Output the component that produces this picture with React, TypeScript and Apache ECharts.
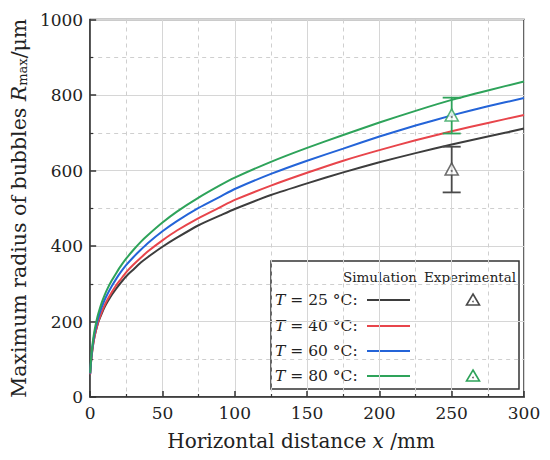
import React, { useEffect, useRef } from "react";
import * as echarts from "echarts";

const xs = [0, 0.5, 1, 2, 3, 4, 5, 6, 8, 10, 12, 15, 18, 21, 25, 30, 35, 40, 50, 60, 75, 90, 100, 125, 150, 175, 200, 225, 250, 275, 300];
const sim25 = [62, 88, 108, 138, 160, 176, 190, 202, 221, 238, 252, 271, 287, 302, 320, 338, 356, 371, 398, 422, 455, 481, 498, 535, 566, 595, 622, 646, 669, 690, 711];
const sim40 = [60, 87, 107, 137, 159, 176, 191, 204, 225, 243, 258, 278, 296, 311, 331, 351, 369, 386, 415, 441, 474, 503, 522, 560, 594, 626, 654, 680, 704, 726, 747];
const sim60 = [62, 90, 112, 144, 168, 186, 202, 215, 238, 257, 273, 294, 313, 330, 350, 371, 390, 408, 439, 466, 501, 531, 551, 591, 626, 658, 690, 719, 746, 770, 792];
const sim80 = [64, 94, 117, 151, 176, 195, 212, 226, 250, 270, 287, 309, 328, 346, 367, 390, 411, 429, 462, 491, 528, 561, 581, 623, 660, 694, 727, 758, 787, 812, 836];

const expX = [250, 250];
const expMean = [604, 747];
const expLow = [542, 698];
const expHigh = [663, 793];
const expColors = ["#4a4a4a", "#2ea35a"];

const seriesNames = ["T = 25 °C", "T = 40 °C", "T = 60 °C", "T = 80 °C"];
const seriesColors = ["#3d3d3d", "#e8454b", "#2464d8", "#2ea35a"];
const seriesData = [sim25, sim40, sim60, sim80];
const legendRows = ["25", "40", "60", "80"];

const FONT = "DejaVu Serif";

export default function App() {
  const ref = useRef<HTMLDivElement>(null);
  useEffect(() => {
    if (!ref.current) return;
    const chart = echarts.init(ref.current, null, { renderer: "svg" });

    const axisCommon = {
      axisLine: { show: true, lineStyle: { color: "#333", width: 1.5 } },
      axisTick: { show: true, inside: true, length: 6, lineStyle: { color: "#333", width: 1.5 } },
      minorTick: { show: true, splitNumber: 2, length: 3, lineStyle: { color: "#333", width: 1.2 } },
      splitLine: { show: true, lineStyle: { color: "#d6d6d6", width: 1 } },
      minorSplitLine: { show: true, lineStyle: { color: "#cfcfcf", width: 1, type: [4, 4] } },
    };
    const labelStyle = {
      fontSize: 17,
      fontFamily: FONT,
      color: "#222",
      formatter: (v: number) => String(v),
    };

    const lineSeries = seriesData.map((d, i) => ({
      name: seriesNames[i],
      type: "line",
      data: xs.map((x, j) => [x, d[j]]),
      showSymbol: false,
      smooth: 0.2,
      lineStyle: { color: seriesColors[i], width: 2 },
      itemStyle: { color: seriesColors[i] },
      z: 3,
    }));

    const errSeries = {
      type: "custom",
      data: expX.map((x, i) => [x, expLow[i], expHigh[i], i]),
      renderItem: (params: any, api: any) => {
        const lo = api.coord([api.value(0), api.value(1)]);
        const hi = api.coord([api.value(0), api.value(2)]);
        const c = expColors[api.value(3)];
        const w = 9;
        const st = { stroke: c, lineWidth: 1.8 };
        return {
          type: "group",
          children: [
            { type: "line", shape: { x1: lo[0], y1: lo[1], x2: hi[0], y2: hi[1] }, style: st },
            { type: "line", shape: { x1: lo[0] - w, y1: lo[1], x2: lo[0] + w, y2: lo[1] }, style: st },
            { type: "line", shape: { x1: hi[0] - w, y1: hi[1], x2: hi[0] + w, y2: hi[1] }, style: st },
          ],
        };
      },
      z: 4,
    };

    const pointSeries = expX.map((x, i) => ({
      type: "scatter",
      data: [[x, expMean[i]]],
      symbol: "triangle",
      symbolSize: [13, 12],
      itemStyle: { color: "#fff", borderColor: expColors[i], borderWidth: 1.6 },
      z: 5,
    }));
    const dotSeries = {
      type: "scatter",
      data: expX.map((x, i) => [x, expMean[i]]),
      symbol: "circle",
      symbolSize: 2,
      symbolOffset: [0, 2],
      itemStyle: { color: "#555" },
      z: 6,
    };

    const lx = 271, ly = 261;
    const rowY = [300, 326, 351, 376];
    const legendChildren: any[] = [
      { type: "rect", shape: { x: lx, y: ly, width: 248, height: 128 }, style: { fill: "#fff", stroke: "#333", lineWidth: 1.5 } },
      { type: "text", x: 343, y: 277, style: { text: "Simulation", fontFamily: FONT, fontSize: 13.5, fill: "#222", verticalAlign: "middle" } },
      { type: "text", x: 424, y: 277, style: { text: "Experimental", fontFamily: FONT, fontSize: 13.5, fill: "#222", verticalAlign: "middle" } },
    ];
    legendRows.forEach((t, i) => {
      legendChildren.push({
        type: "text",
        x: 275,
        y: rowY[i],
        style: {
          text: `{i|T}{n| = ${t} °C:}`,
          verticalAlign: "middle",
          rich: {
            i: { fontFamily: FONT, fontSize: 15.5, fontStyle: "italic", fill: "#222" },
            n: { fontFamily: FONT, fontSize: 15.5, fill: "#222" },
          },
        },
      });
      legendChildren.push({
        type: "line",
        shape: { x1: 367, y1: rowY[i], x2: 410, y2: rowY[i] },
        style: { stroke: seriesColors[i], lineWidth: 2 },
      });
    });
    [0, 3].forEach((row, k) => {
      const cx = 473, cy = rowY[row];
      legendChildren.push({
        type: "polygon",
        shape: { points: [[cx, cy - 6], [cx + 6.5, cy + 5], [cx - 6.5, cy + 5]] },
        style: { fill: "#fff", stroke: expColors[k], lineWidth: 1.6 },
      });
      legendChildren.push({ type: "circle", shape: { cx, cy: cy + 1.5, r: 0.8 }, style: { fill: "#555" } });
    });

    chart.setOption({
      animation: false,
      backgroundColor: "#fff",
      textStyle: { fontFamily: FONT },
      grid: { left: 81, right: 26, top: 19.5, bottom: 63, show: true, borderColor: "#333", borderWidth: 1.5, backgroundColor: "transparent" },
      xAxis: {
        type: "value",
        min: 0,
        max: 300,
        interval: 50,
        ...axisCommon,
        axisLabel: { ...labelStyle, margin: 7 },
        name: "{n|Horizontal distance }{i|x}{n| /mm}",
        nameLocation: "middle",
        nameGap: 34,
        nameTextStyle: {
          fontFamily: FONT,
          padding: [0, 12, 0, 0],
          rich: {
            n: { fontFamily: FONT, fontSize: 20, color: "#222" },
            i: { fontFamily: FONT, fontSize: 20, fontStyle: "italic", color: "#222" },
          },
        },
      },
      yAxis: {
        type: "value",
        min: 0,
        max: 1000,
        interval: 200,
        ...axisCommon,
        axisLabel: { ...labelStyle, margin: 7 },
        name: "{n|Maximum radius of bubbles }{i|R}{s|max}{n|/μm}",
        nameLocation: "middle",
        nameGap: 52,
        nameTextStyle: {
          fontFamily: FONT,
          rich: {
            n: { fontFamily: FONT, fontSize: 20.5, color: "#222" },
            i: { fontFamily: FONT, fontSize: 20.5, fontStyle: "italic", color: "#222" },
            s: { fontFamily: FONT, fontSize: 13, color: "#222", padding: [8, 0, 0, 0] },
          },
        },
      },
      series: [...lineSeries, errSeries, ...pointSeries, dotSeries],
      graphic: [{ type: "group", z: 100, children: legendChildren }],
    });
    return () => chart.dispose();
  }, []);
  return <div ref={ref} style={{ position: "fixed", left: 0, top: 0, width: 550, height: 460 }} />;
}
